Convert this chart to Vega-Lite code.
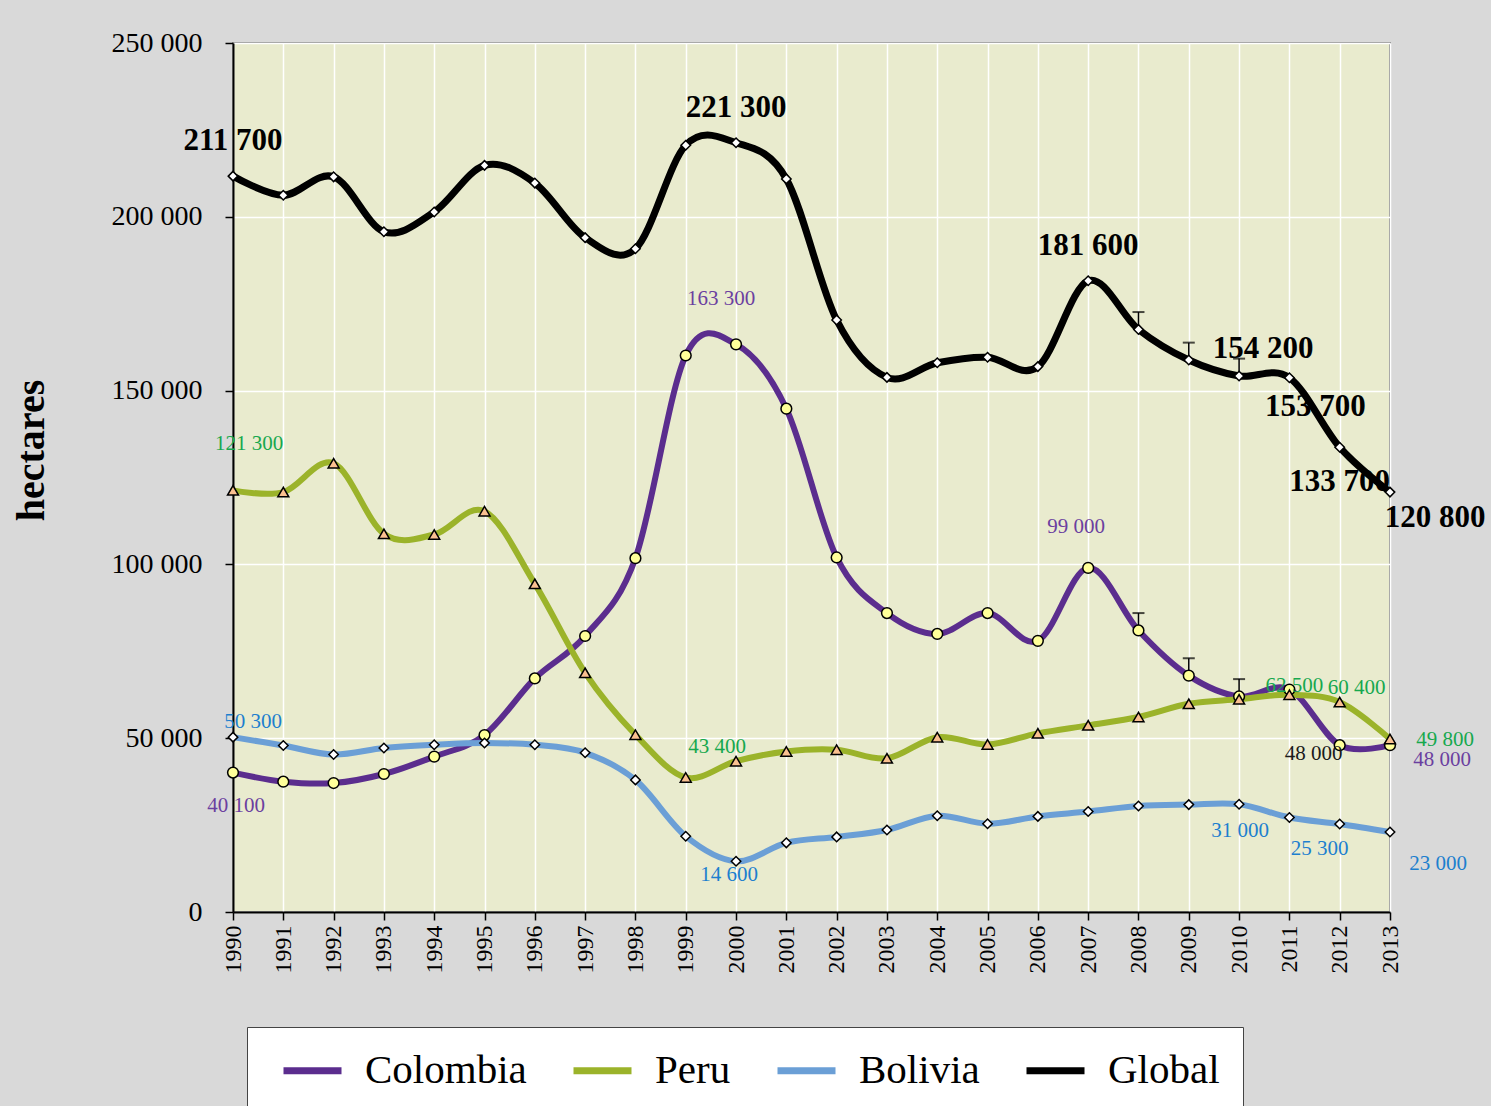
{
  "$schema": "https://vega.github.io/schema/vega-lite/v6.json",
  "width": 1157,
  "height": 869,
  "autosize": {"type": "none"},
  "padding": {"left": 233, "top": 43, "right": 101, "bottom": 194},
  "background": "#d9d9d9",
  "config": {
    "font": "Liberation Serif",
    "view": {"fill": "#e9ebce", "stroke": "#8c8c8c", "strokeWidth": 2},
    "text": {"font": "Liberation Serif"}
  },
  "datasets": {
    "main": [
      {"year": "1990", "series": "Colombia", "value": 40100},
      {"year": "1991", "series": "Colombia", "value": 37500},
      {"year": "1992", "series": "Colombia", "value": 37100},
      {"year": "1993", "series": "Colombia", "value": 39700},
      {"year": "1994", "series": "Colombia", "value": 44700},
      {"year": "1995", "series": "Colombia", "value": 50900},
      {"year": "1996", "series": "Colombia", "value": 67200},
      {"year": "1997", "series": "Colombia", "value": 79400},
      {"year": "1998", "series": "Colombia", "value": 101800},
      {"year": "1999", "series": "Colombia", "value": 160100},
      {"year": "2000", "series": "Colombia", "value": 163300},
      {"year": "2001", "series": "Colombia", "value": 144800},
      {"year": "2002", "series": "Colombia", "value": 102000},
      {"year": "2003", "series": "Colombia", "value": 86000},
      {"year": "2004", "series": "Colombia", "value": 80000},
      {"year": "2005", "series": "Colombia", "value": 86000},
      {"year": "2006", "series": "Colombia", "value": 78000},
      {"year": "2007", "series": "Colombia", "value": 99000},
      {"year": "2008", "series": "Colombia", "value": 81000},
      {"year": "2009", "series": "Colombia", "value": 68000},
      {"year": "2010", "series": "Colombia", "value": 62000},
      {"year": "2011", "series": "Colombia", "value": 64000},
      {"year": "2012", "series": "Colombia", "value": 48000},
      {"year": "2013", "series": "Colombia", "value": 48000},
      {"year": "1990", "series": "Peru", "value": 121300},
      {"year": "1991", "series": "Peru", "value": 120800},
      {"year": "1992", "series": "Peru", "value": 129100},
      {"year": "1993", "series": "Peru", "value": 108800},
      {"year": "1994", "series": "Peru", "value": 108600},
      {"year": "1995", "series": "Peru", "value": 115300},
      {"year": "1996", "series": "Peru", "value": 94400},
      {"year": "1997", "series": "Peru", "value": 68800},
      {"year": "1998", "series": "Peru", "value": 51000},
      {"year": "1999", "series": "Peru", "value": 38700},
      {"year": "2000", "series": "Peru", "value": 43400},
      {"year": "2001", "series": "Peru", "value": 46200},
      {"year": "2002", "series": "Peru", "value": 46700},
      {"year": "2003", "series": "Peru", "value": 44200},
      {"year": "2004", "series": "Peru", "value": 50300},
      {"year": "2005", "series": "Peru", "value": 48200},
      {"year": "2006", "series": "Peru", "value": 51400},
      {"year": "2007", "series": "Peru", "value": 53700},
      {"year": "2008", "series": "Peru", "value": 56100},
      {"year": "2009", "series": "Peru", "value": 59900},
      {"year": "2010", "series": "Peru", "value": 61200},
      {"year": "2011", "series": "Peru", "value": 62500},
      {"year": "2012", "series": "Peru", "value": 60400},
      {"year": "2013", "series": "Peru", "value": 49800},
      {"year": "1990", "series": "Bolivia", "value": 50300},
      {"year": "1991", "series": "Bolivia", "value": 47900},
      {"year": "1992", "series": "Bolivia", "value": 45300},
      {"year": "1993", "series": "Bolivia", "value": 47200},
      {"year": "1994", "series": "Bolivia", "value": 48100},
      {"year": "1995", "series": "Bolivia", "value": 48600},
      {"year": "1996", "series": "Bolivia", "value": 48100},
      {"year": "1997", "series": "Bolivia", "value": 45800},
      {"year": "1998", "series": "Bolivia", "value": 38000},
      {"year": "1999", "series": "Bolivia", "value": 21800},
      {"year": "2000", "series": "Bolivia", "value": 14600},
      {"year": "2001", "series": "Bolivia", "value": 19900},
      {"year": "2002", "series": "Bolivia", "value": 21600},
      {"year": "2003", "series": "Bolivia", "value": 23600},
      {"year": "2004", "series": "Bolivia", "value": 27700},
      {"year": "2005", "series": "Bolivia", "value": 25400},
      {"year": "2006", "series": "Bolivia", "value": 27500},
      {"year": "2007", "series": "Bolivia", "value": 28900},
      {"year": "2008", "series": "Bolivia", "value": 30500},
      {"year": "2009", "series": "Bolivia", "value": 30900},
      {"year": "2010", "series": "Bolivia", "value": 31000},
      {"year": "2011", "series": "Bolivia", "value": 27200},
      {"year": "2012", "series": "Bolivia", "value": 25300},
      {"year": "2013", "series": "Bolivia", "value": 23000},
      {"year": "1990", "series": "Global", "value": 211700},
      {"year": "1991", "series": "Global", "value": 206200},
      {"year": "1992", "series": "Global", "value": 211500},
      {"year": "1993", "series": "Global", "value": 195700},
      {"year": "1994", "series": "Global", "value": 201400},
      {"year": "1995", "series": "Global", "value": 214800},
      {"year": "1996", "series": "Global", "value": 209700},
      {"year": "1997", "series": "Global", "value": 194000},
      {"year": "1998", "series": "Global", "value": 190800},
      {"year": "1999", "series": "Global", "value": 220600},
      {"year": "2000", "series": "Global", "value": 221300},
      {"year": "2001", "series": "Global", "value": 210900},
      {"year": "2002", "series": "Global", "value": 170300},
      {"year": "2003", "series": "Global", "value": 153800},
      {"year": "2004", "series": "Global", "value": 158000},
      {"year": "2005", "series": "Global", "value": 159600},
      {"year": "2006", "series": "Global", "value": 156900},
      {"year": "2007", "series": "Global", "value": 181600},
      {"year": "2008", "series": "Global", "value": 167600},
      {"year": "2009", "series": "Global", "value": 158800},
      {"year": "2010", "series": "Global", "value": 154200},
      {"year": "2011", "series": "Global", "value": 153700},
      {"year": "2012", "series": "Global", "value": 133700},
      {"year": "2013", "series": "Global", "value": 120800}
    ],
    "err": [
      {"year": "2008", "series": "Colombia", "value": 81000, "upper": 86000},
      {"year": "2009", "series": "Colombia", "value": 68000, "upper": 73000},
      {"year": "2010", "series": "Colombia", "value": 62000, "upper": 67000},
      {"year": "2008", "series": "Global", "value": 167600, "upper": 172600},
      {"year": "2009", "series": "Global", "value": 158800, "upper": 163800},
      {"year": "2010", "series": "Global", "value": 154200, "upper": 159200}
    ]
  },
  "layer": [
    {
      "data": {"name": "main"},
      "transform": [{"filter": "datum.series != 'Global'"}],
      "mark": {"type": "line", "interpolate": "cardinal", "strokeWidth": 6, "strokeCap": "round"},
      "encoding": {
        "x": {
          "field": "year", "type": "ordinal",
          "scale": {"type": "point", "padding": 0},
          "axis": {
            "title": null, "labelAngle": 270, "labelFontSize": 24, "labelColor": "black",
            "labelFont": "Liberation Serif", "labelPadding": 5,
            "tickColor": "black", "tickSize": 8, "tickWidth": 1.5,
            "domainColor": "black", "domainWidth": 2,
            "grid": true, "gridColor": "white", "gridWidth": 1.5
          }
        },
        "y": {
          "field": "value", "type": "quantitative",
          "scale": {"domain": [0, 250000], "nice": false},
          "axis": {
            "title": "hectares", "titleFontSize": 40, "titleFontWeight": "bold", "titleColor": "black",
            "titleFont": "Liberation Serif", "titleAngle": 270, "titleX": -202, "titleY": 407,
            "titleAlign": "center", "titleBaseline": "middle",
            "values": [0, 50000, 100000, 150000, 200000, 250000],
            "labelExpr": "replace(format(datum.value, ','), ',', ' ')",
            "labelFontSize": 28, "labelColor": "black", "labelFont": "Liberation Serif", "labelPadding": 23,
            "tickColor": "black", "tickSize": 8, "tickWidth": 1.5,
            "domainColor": "black", "domainWidth": 2,
            "grid": true, "gridColor": "white", "gridWidth": 1.5
          }
        },
        "color": {
          "field": "series", "type": "nominal",
          "scale": {"domain": ["Colombia", "Peru", "Bolivia", "Global"], "range": ["#5b2d8e", "#9bb32a", "#6b9fd6", "#000000"]},
          "legend": {
            "orient": "none", "legendX": 14, "legendY": 984, "direction": "horizontal", "title": null,
            "fillColor": "white", "strokeColor": "#444444", "padding": 23,
            "symbolType": "M-2,0H2", "symbolSize": 841, "symbolStrokeWidth": 7,
            "labelFontSize": 41, "labelFont": "Liberation Serif", "labelColor": "black", "labelLimit": 400,
            "columnPadding": 32, "labelOffset": 32, "symbolOffset": 22
          }
        }
      }
    },
    {
      "data": {"name": "main"},
      "transform": [{"filter": "datum.series == 'Global'"}],
      "mark": {"type": "line", "interpolate": "cardinal", "strokeWidth": 7, "strokeCap": "round"},
      "encoding": {
        "x": {"field": "year", "type": "ordinal"},
        "y": {"field": "value", "type": "quantitative"},
        "color": {"field": "series", "type": "nominal"}
      }
    },
    {
      "data": {"name": "err"},
      "mark": {"type": "rule", "color": "black", "strokeWidth": 1.5},
      "encoding": {
        "x": {"field": "year", "type": "ordinal"},
        "y": {"field": "value", "type": "quantitative"},
        "y2": {"field": "upper"}
      }
    },
    {
      "data": {"name": "err"},
      "mark": {"type": "tick", "color": "black", "thickness": 2, "size": 12, "orient": "horizontal"},
      "encoding": {
        "x": {"field": "year", "type": "ordinal"},
        "y": {"field": "upper", "type": "quantitative"}
      }
    },
    {
      "data": {"name": "main"},
      "transform": [{"filter": "datum.series == 'Colombia'"}],
      "mark": {"type": "point", "shape": "circle", "filled": true, "fill": "#ffff99", "stroke": "black", "strokeWidth": 1.5, "opacity": 1, "size": 115},
      "encoding": {
        "x": {"field": "year", "type": "ordinal"},
        "y": {"field": "value", "type": "quantitative"}
      }
    },
    {
      "data": {"name": "main"},
      "transform": [{"filter": "datum.series == 'Peru'"}],
      "mark": {"type": "point", "shape": "triangle-up", "filled": true, "fill": "#fac090", "stroke": "black", "strokeWidth": 1.5, "opacity": 1, "size": 120},
      "encoding": {
        "x": {"field": "year", "type": "ordinal"},
        "y": {"field": "value", "type": "quantitative"}
      }
    },
    {
      "data": {"name": "main"},
      "transform": [{"filter": "datum.series == 'Bolivia' || datum.series == 'Global'"}],
      "mark": {"type": "point", "shape": "diamond", "filled": true, "fill": "#ffffff", "stroke": "black", "strokeWidth": 1.5, "opacity": 1, "size": 90},
      "encoding": {
        "x": {"field": "year", "type": "ordinal"},
        "y": {"field": "value", "type": "quantitative"}
      }
    },
    {
      "data": {"values": [
        {"year": "1990", "value": 211700, "text": "211 700"},
        {"year": "2000", "value": 221300, "text": "221 300"},
        {"year": "2007", "value": 181600, "text": "181 600"}
      ]},
      "mark": {"type": "text", "fontSize": 31, "fontWeight": "bold", "color": "black", "dy": -35, "baseline": "middle"},
      "encoding": {"x": {"field": "year", "type": "ordinal"}, "y": {"field": "value", "type": "quantitative"}, "text": {"field": "text"}}
    },
    {
      "data": {"values": [{"year": "2010", "value": 154200, "text": "154 200"}]},
      "mark": {"type": "text", "fontSize": 31, "fontWeight": "bold", "color": "black", "dx": 24, "dy": -27, "baseline": "middle"},
      "encoding": {"x": {"field": "year", "type": "ordinal"}, "y": {"field": "value", "type": "quantitative"}, "text": {"field": "text"}}
    },
    {
      "data": {"values": [{"year": "2011", "value": 153700, "text": "153 700"}]},
      "mark": {"type": "text", "fontSize": 31, "fontWeight": "bold", "color": "black", "dx": 26, "dy": 29, "baseline": "middle"},
      "encoding": {"x": {"field": "year", "type": "ordinal"}, "y": {"field": "value", "type": "quantitative"}, "text": {"field": "text"}}
    },
    {
      "data": {"values": [{"year": "2012", "value": 133700, "text": "133 700"}]},
      "mark": {"type": "text", "fontSize": 31, "fontWeight": "bold", "color": "black", "dx": 0, "dy": 35, "baseline": "middle"},
      "encoding": {"x": {"field": "year", "type": "ordinal"}, "y": {"field": "value", "type": "quantitative"}, "text": {"field": "text"}}
    },
    {
      "data": {"values": [{"year": "2013", "value": 120800, "text": "120 800"}]},
      "mark": {"type": "text", "fontSize": 31, "fontWeight": "bold", "color": "black", "dx": 45, "dy": 26, "baseline": "middle"},
      "encoding": {"x": {"field": "year", "type": "ordinal"}, "y": {"field": "value", "type": "quantitative"}, "text": {"field": "text"}}
    },
    {
      "data": {"values": [{"year": "1990", "value": 40100, "text": "40 100"}]},
      "mark": {"type": "text", "fontSize": 21, "color": "#6b3fa0", "dx": 3, "dy": 33, "baseline": "middle"},
      "encoding": {"x": {"field": "year", "type": "ordinal"}, "y": {"field": "value", "type": "quantitative"}, "text": {"field": "text"}}
    },
    {
      "data": {"values": [{"year": "2000", "value": 163300, "text": "163 300"}]},
      "mark": {"type": "text", "fontSize": 21, "color": "#6b3fa0", "dx": -15, "dy": -45, "baseline": "middle"},
      "encoding": {"x": {"field": "year", "type": "ordinal"}, "y": {"field": "value", "type": "quantitative"}, "text": {"field": "text"}}
    },
    {
      "data": {"values": [{"year": "2007", "value": 99000, "text": "99 000"}]},
      "mark": {"type": "text", "fontSize": 21, "color": "#6b3fa0", "dx": -12, "dy": -41, "baseline": "middle"},
      "encoding": {"x": {"field": "year", "type": "ordinal"}, "y": {"field": "value", "type": "quantitative"}, "text": {"field": "text"}}
    },
    {
      "data": {"values": [{"year": "2012", "value": 48000, "text": "48 000"}]},
      "mark": {"type": "text", "fontSize": 21, "color": "#1a1a1a", "dx": -26, "dy": 9, "baseline": "middle"},
      "encoding": {"x": {"field": "year", "type": "ordinal"}, "y": {"field": "value", "type": "quantitative"}, "text": {"field": "text"}}
    },
    {
      "data": {"values": [{"year": "2013", "value": 48000, "text": "48 000"}]},
      "mark": {"type": "text", "fontSize": 21, "color": "#6b3fa0", "dx": 52, "dy": 15, "baseline": "middle"},
      "encoding": {"x": {"field": "year", "type": "ordinal"}, "y": {"field": "value", "type": "quantitative"}, "text": {"field": "text"}}
    },
    {
      "data": {"values": [{"year": "1990", "value": 121300, "text": "121 300"}]},
      "mark": {"type": "text", "fontSize": 21, "color": "#17a84e", "dx": 16, "dy": -46, "baseline": "middle"},
      "encoding": {"x": {"field": "year", "type": "ordinal"}, "y": {"field": "value", "type": "quantitative"}, "text": {"field": "text"}}
    },
    {
      "data": {"values": [{"year": "2000", "value": 43400, "text": "43 400"}]},
      "mark": {"type": "text", "fontSize": 21, "color": "#17a84e", "dx": -19, "dy": -14, "baseline": "middle"},
      "encoding": {"x": {"field": "year", "type": "ordinal"}, "y": {"field": "value", "type": "quantitative"}, "text": {"field": "text"}}
    },
    {
      "data": {"values": [{"year": "2011", "value": 62500, "text": "62 500"}]},
      "mark": {"type": "text", "fontSize": 21, "color": "#17a84e", "dx": 5, "dy": -9, "baseline": "middle"},
      "encoding": {"x": {"field": "year", "type": "ordinal"}, "y": {"field": "value", "type": "quantitative"}, "text": {"field": "text"}}
    },
    {
      "data": {"values": [{"year": "2012", "value": 60400, "text": "60 400"}]},
      "mark": {"type": "text", "fontSize": 21, "color": "#17a84e", "dx": 17, "dy": -14, "baseline": "middle"},
      "encoding": {"x": {"field": "year", "type": "ordinal"}, "y": {"field": "value", "type": "quantitative"}, "text": {"field": "text"}}
    },
    {
      "data": {"values": [{"year": "2013", "value": 49800, "text": "49 800"}]},
      "mark": {"type": "text", "fontSize": 21, "color": "#17a84e", "dx": 55, "dy": 1, "baseline": "middle"},
      "encoding": {"x": {"field": "year", "type": "ordinal"}, "y": {"field": "value", "type": "quantitative"}, "text": {"field": "text"}}
    },
    {
      "data": {"values": [{"year": "1990", "value": 50300, "text": "50 300"}]},
      "mark": {"type": "text", "fontSize": 21, "color": "#1d7fce", "dx": 20, "dy": -15, "baseline": "middle"},
      "encoding": {"x": {"field": "year", "type": "ordinal"}, "y": {"field": "value", "type": "quantitative"}, "text": {"field": "text"}}
    },
    {
      "data": {"values": [{"year": "2000", "value": 14600, "text": "14 600"}]},
      "mark": {"type": "text", "fontSize": 21, "color": "#1d7fce", "dx": -7, "dy": 14, "baseline": "middle"},
      "encoding": {"x": {"field": "year", "type": "ordinal"}, "y": {"field": "value", "type": "quantitative"}, "text": {"field": "text"}}
    },
    {
      "data": {"values": [{"year": "2010", "value": 31000, "text": "31 000"}]},
      "mark": {"type": "text", "fontSize": 21, "color": "#1d7fce", "dx": 1, "dy": 27, "baseline": "middle"},
      "encoding": {"x": {"field": "year", "type": "ordinal"}, "y": {"field": "value", "type": "quantitative"}, "text": {"field": "text"}}
    },
    {
      "data": {"values": [{"year": "2012", "value": 25300, "text": "25 300"}]},
      "mark": {"type": "text", "fontSize": 21, "color": "#1d7fce", "dx": -20, "dy": 25, "baseline": "middle"},
      "encoding": {"x": {"field": "year", "type": "ordinal"}, "y": {"field": "value", "type": "quantitative"}, "text": {"field": "text"}}
    },
    {
      "data": {"values": [{"year": "2013", "value": 23000, "text": "23 000"}]},
      "mark": {"type": "text", "fontSize": 21, "color": "#1d7fce", "dx": 48, "dy": 32, "baseline": "middle"},
      "encoding": {"x": {"field": "year", "type": "ordinal"}, "y": {"field": "value", "type": "quantitative"}, "text": {"field": "text"}}
    }
  ]
}
